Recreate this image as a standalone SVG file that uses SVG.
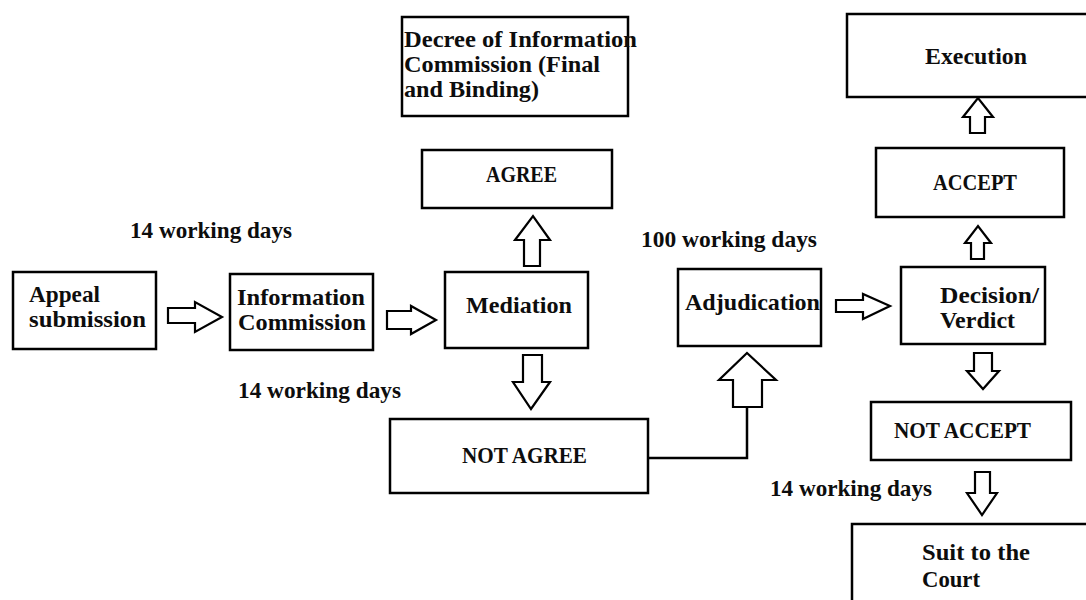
<svg xmlns="http://www.w3.org/2000/svg" width="1086" height="600" viewBox="0 0 1086 600">
  <style>
    .box { fill: #ffffff; stroke: #000000; stroke-width: 2.5; }
    .blk { fill: #ffffff; stroke: #000000; stroke-width: 2.2; stroke-linejoin: miter; }
    .line { fill: none; stroke: #000000; stroke-width: 2.5; }
    text { font-family: "Liberation Serif", "Times New Roman", serif; font-weight: bold; font-size: 23px; fill: #0d0d0d; }
  </style>
  <rect width="1086" height="600" fill="#ffffff"/>

  <!-- process boxes -->
  <g id="appeal">
    <rect class="box" x="13" y="272" width="143" height="77"/>
    <text x="29" y="302" textLength="71" lengthAdjust="spacingAndGlyphs">Appeal</text>
    <text x="29" y="327" textLength="117" lengthAdjust="spacingAndGlyphs">submission</text>
  </g>
  <g id="info-commission">
    <rect class="box" x="230" y="274" width="143" height="76"/>
    <text x="237" y="305" textLength="128" lengthAdjust="spacingAndGlyphs">Information</text>
    <text x="238" y="330" textLength="128" lengthAdjust="spacingAndGlyphs">Commission</text>
  </g>
  <g id="mediation">
    <rect class="box" x="445" y="272" width="143" height="76"/>
    <text x="466" y="313" textLength="106" lengthAdjust="spacingAndGlyphs">Mediation</text>
  </g>
  <g id="agree">
    <rect class="box" x="422" y="150" width="190" height="58"/>
    <text x="486" y="182" textLength="71" lengthAdjust="spacingAndGlyphs">AGREE</text>
  </g>
  <g id="decree">
    <rect class="box" x="402" y="17" width="226" height="99"/>
    <text x="404" y="47" textLength="233" lengthAdjust="spacingAndGlyphs">Decree of Information</text>
    <text x="404" y="72" textLength="196" lengthAdjust="spacingAndGlyphs">Commission (Final</text>
    <text x="404" y="97" textLength="135" lengthAdjust="spacingAndGlyphs">and Binding)</text>
  </g>
  <g id="not-agree">
    <rect class="box" x="390" y="419" width="258" height="74"/>
    <text x="462" y="463" textLength="125" lengthAdjust="spacingAndGlyphs">NOT AGREE</text>
  </g>
  <g id="adjudication">
    <rect class="box" x="678" y="269" width="143" height="77"/>
    <text x="685" y="310" textLength="135" lengthAdjust="spacingAndGlyphs">Adjudication</text>
  </g>
  <g id="decision">
    <rect class="box" x="901" y="267" width="144" height="77"/>
    <text x="940" y="303" textLength="99" lengthAdjust="spacingAndGlyphs">Decision/</text>
    <text x="940" y="328" textLength="75" lengthAdjust="spacingAndGlyphs">Verdict</text>
  </g>
  <g id="accept">
    <rect class="box" x="876" y="148" width="188" height="69"/>
    <text x="933" y="190" textLength="84" lengthAdjust="spacingAndGlyphs">ACCEPT</text>
  </g>
  <g id="execution">
    <rect class="box" x="847" y="14" width="260" height="83"/>
    <text x="925" y="64" textLength="102" lengthAdjust="spacingAndGlyphs">Execution</text>
  </g>
  <g id="not-accept">
    <rect class="box" x="871" y="402" width="200" height="58"/>
    <text x="894" y="438" textLength="137" lengthAdjust="spacingAndGlyphs">NOT ACCEPT</text>
  </g>
  <g id="suit">
    <rect class="box" x="852" y="524" width="260" height="100"/>
    <text x="922" y="560" textLength="108" lengthAdjust="spacingAndGlyphs">Suit to the</text>
    <text x="922" y="587" textLength="58" lengthAdjust="spacingAndGlyphs">Court</text>
  </g>

  <!-- time limits -->
  <g id="labels">
    <text x="130" y="238" textLength="162" lengthAdjust="spacingAndGlyphs">14 working days</text>
    <text x="238" y="398" textLength="163" lengthAdjust="spacingAndGlyphs">14 working days</text>
    <text x="641" y="247" textLength="176" lengthAdjust="spacingAndGlyphs">100 working days</text>
    <text x="770" y="496" textLength="162" lengthAdjust="spacingAndGlyphs">14 working days</text>
  </g>

  <!-- hollow block arrows and the elbow line -->
  <g id="connectors">
    <polygon class="blk" points="168,308 195,308 195,302 222,317 195,332 195,323 168,323"/>
    <polygon class="blk" points="387,311 411,311 411,306 436,320 411,334 411,329 387,329"/>
    <polygon class="blk" points="524,266 524,240 515,240 533,216 550,240 540,240 540,266"/>
    <polygon class="blk" points="523,355 542,355 542,382 550,382 531,409 513,382 523,382"/>
    <polyline class="line" points="648,458 747,458 747,407"/>
    <polygon class="blk" points="733,407 733,380 719,380 747,353 776,380 762,380 762,407"/>
    <polygon class="blk" points="836,300 863,300 863,294 890,306 863,319 863,312 836,312"/>
    <polygon class="blk" points="971,259 971,243 965,243 978,226 991,243 984,243 984,259"/>
    <polygon class="blk" points="970,133 970,117 963,117 978,98 993,117 985,117 985,133"/>
    <polygon class="blk" points="974,353 992,353 992,371 999,371 983,389 967,371 974,371"/>
    <polygon class="blk" points="975,472 990,472 990,493 997,493 982,515 967,493 975,493"/>
  </g>
</svg>
